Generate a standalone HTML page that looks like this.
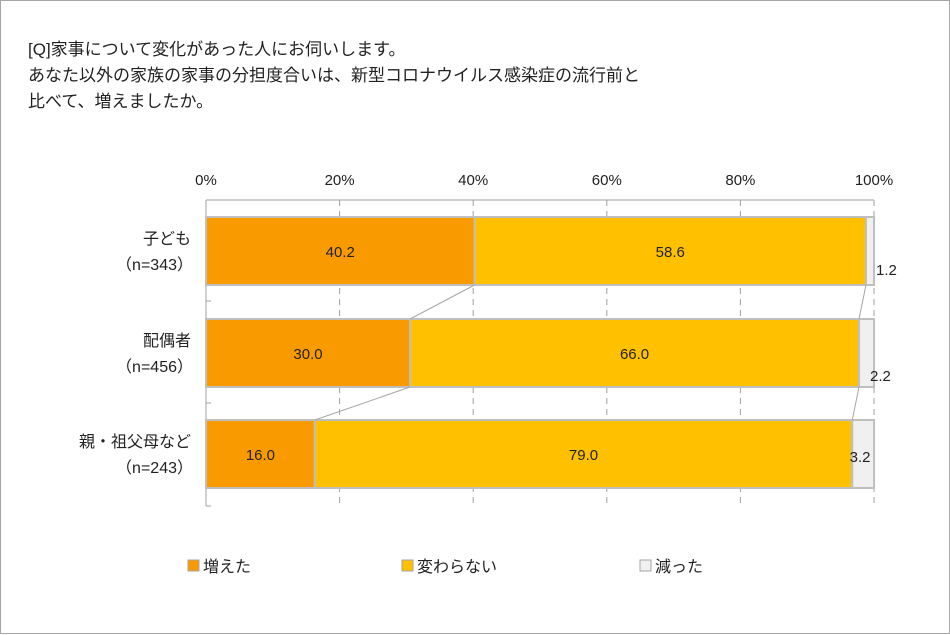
<!DOCTYPE html>
<html><head><meta charset="utf-8"><style>
body{margin:0;background:#fff;}
#wrap{position:relative;width:950px;height:634px;box-sizing:border-box;border:1px solid #a6a6a6;font-family:"Liberation Sans","Noto Sans CJK JP",sans-serif;color:#222;}
.t{position:absolute;left:27px;font-size:17px;white-space:nowrap;}
</style></head><body>
<div id="wrap">
<div class="t" style="top:34px">[Q]家事について変化があった人にお伺いします。</div>
<div class="t" style="top:60px">あなた以外の家族の家事の分担度合いは、新型コロナウイルス感染症の流行前と</div>
<div class="t" style="top:86px">比べて、増えましたか。</div>
<svg id="chart" width="950" height="634" style="position:absolute;left:0;top:0"></svg>
</div>
<script>
const categories=["子ども","配偶者","親・祖父母など"];
const counts=["（n=343）","（n=456）","（n=243）"];
const increased=[40.2,30.0,16.0];
const unchanged=[58.6,66.0,79.0];
const decreased=[1.2,2.2,3.2];
const tickLabels=[0,20,40,60,80,100];
const seriesNames=["増えた","変わらない","減った"];
const colors=["#F99B00","#FFC000","#F0F0F0"];
const NS="http://www.w3.org/2000/svg";
const svg=document.getElementById('chart');
const x0=205,x1=873;
const X=v=>x0+(x1-x0)*v/100;
const barTop=[216,318,419],barH=68;
function mk(tag,attrs,parent){const e=document.createElementNS(NS,tag);for(const k in attrs)e.setAttribute(k,attrs[k]);(parent||svg).appendChild(e);return e;}
tickLabels.forEach(t=>{
  const g=mk('line',{x1:X(t),x2:X(t),y1:199,y2:505,stroke:'#a0a0a0','stroke-dasharray':t===0?'':'6,5'});
  
  
  const tx=mk('text',{x:X(t),y:184,'text-anchor':'middle','font-size':15,fill:'#222'});
  tx.textContent=t+'%';
  
  
});
const ax=mk('line',{x1:x0,x2:x1,y1:199,y2:199,stroke:'#a0a0a0'});


[199,300,402,505].forEach(y=>{const l=mk('line',{x1:x0,x2:x0+5,y1:y,y2:y,stroke:'#a0a0a0'});

});
const series=[increased,unchanged,decreased];
const cum=[];
categories.forEach((c,i)=>{
  const tot=increased[i]+unchanged[i]+decreased[i];
  let acc=0;const edges=[];
  series.forEach((s,k)=>{
    const a=acc/tot*100,b=(acc+s[i])/tot*100;
    const r=mk('rect',{x:X(a),y:barTop[i],width:X(b)-X(a),height:barH,fill:colors[k],stroke:'#bfbfbf','stroke-width':2});
    
    
    let cx=(X(a)+X(b))/2, cy=barTop[i]+barH/2+6, anchor='middle';
    if(k===2){
      if(i===0){cx=X(b)+2;anchor='start';cy=barTop[i]+58;}
      else if(i===1){cx=X(b)-4;anchor='start';cy=barTop[i]+62;}
      else {cx=(X(a)+X(b))/2-3;cy=barTop[i]+42;}
    }
    const t=mk('text',{x:cx,y:cy,'text-anchor':anchor,'font-size':15,fill:'#222'});
    t.textContent=s[i].toFixed(1);
    
    
    edges.push(b);
    acc+=s[i];
  });
  cum.push(edges);
  const l1=mk('text',{x:190,y:barTop[i]+27,'text-anchor':'end','font-size':16,fill:'#222'});
  l1.textContent=c;
  
  
  const l2=mk('text',{x:192,y:barTop[i]+53,'text-anchor':'end','font-size':16,fill:'#222'});
  l2.textContent=counts[i];
  
  
});
for(let i=0;i<categories.length-1;i++){
  [0,1].forEach(j=>{
    const ln=mk('line',{x1:X(cum[i][j]),y1:barTop[i]+barH,x2:X(cum[i+1][j]),y2:barTop[i+1],stroke:'#a6a6a6'});
    
    
  });
}
const legX=[187,401,639];
seriesNames.forEach((n,k)=>{
  const r=mk('rect',{x:legX[k],y:559,width:11,height:11,fill:colors[k],stroke:'#a6a6a6'});
  
  
  const t=mk('text',{x:legX[k]+15,y:571,'font-size':16,fill:'#222'});
  t.textContent=n;
  
  
});
</script>
</body></html>
